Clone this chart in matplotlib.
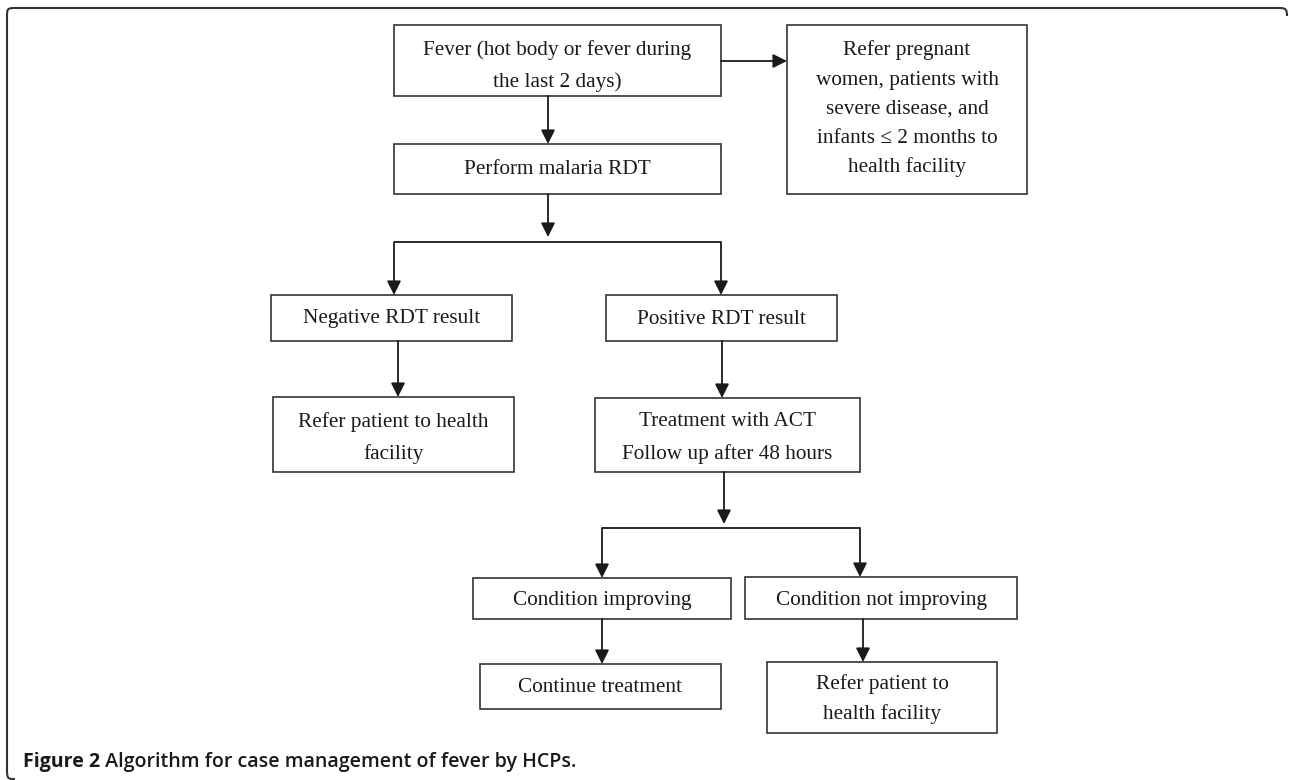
import matplotlib
matplotlib.use("Agg")
import matplotlib.pyplot as plt
from matplotlib.patches import Rectangle, PathPatch
from matplotlib.path import Path

# ---------------- data: node labels ----------------
fever_label = ["Fever (hot body or fever during", "the last 2 days)"]
refer_special_label = ["Refer pregnant", "women, patients with", "severe disease, and",
                       "infants \u2264 2 months to", "health facility"]
rdt_label = ["Perform malaria RDT"]
negative_label = ["Negative RDT result"]
positive_label = ["Positive RDT result"]
refer_neg_label = ["Refer patient to health", "facility"]
treatment_label = ["Treatment with ACT", "Follow up after 48 hours"]
improving_label = ["Condition improving"]
not_improving_label = ["Condition not improving"]
continue_label = ["Continue treatment"]
refer_fail_label = ["Refer patient to", "health facility"]
caption_bold = "Figure 2"
caption_text = "Algorithm for case management of fever by HCPs."

nodes = {
    "fever": fever_label,
    "refer_special": refer_special_label,
    "rdt": rdt_label,
    "negative": negative_label,
    "positive": positive_label,
    "refer_neg": refer_neg_label,
    "treatment": treatment_label,
    "improving": improving_label,
    "not_improving": not_improving_label,
    "continue": continue_label,
    "refer_fail": refer_fail_label,
}

# ---------------- layout (pixels, y downwards) ----------------
# x0, x1, y0, y1, centre of first text line, line step
layout = {
    "fever":         (394, 721, 25, 96, 49, 31),
    "refer_special": (787, 1027, 25, 194, 49, 29.2),
    "rdt":           (394, 721, 144, 194, 168, 0),
    "negative":      (271, 512, 295, 341, 317, 0),
    "positive":      (606, 837, 295, 341, 317, 0),
    "refer_neg":     (273, 514, 397, 472, 420, 32),
    "treatment":     (595, 860, 398, 472, 420, 32),
    "improving":     (473, 731, 578, 619, 598, 0),
    "not_improving": (745, 1017, 577, 619, 598, 0),
    "continue":      (480, 721, 664, 709, 685, 0),
    "refer_fail":    (767, 997, 662, 733, 682, 31),
}
# arrows with heads: (x0, y0, x1, y1)
arrows = [
    (721, 61, 787, 61),
    (548, 96, 548, 144),
    (548, 194, 548, 237),
    (394, 242, 394, 295),
    (721, 242, 721, 295),
    (398, 341, 398, 397),
    (722, 341, 722, 398),
    (724, 472, 724, 524),
    (602, 528, 602, 578),
    (860, 528, 860, 577),
    (602, 619, 602, 664),
    (863, 619, 863, 662),
]
# plain connector lines
lines = [
    (394, 242, 721, 242),
    (602, 528, 860, 528),
]

W, H = 1289, 780
fig = plt.figure(figsize=(W / 100, H / 100), dpi=100)
ax = fig.add_axes([0, 0, 1, 1])
ax.set_xlim(0, W)
ax.set_ylim(H, 0)
ax.axis("off")

serif = ["Liberation Serif", "DejaVu Serif"]
fs = 15.3
text_color = "#1a1a1a"
edge = "#333333"

# outer frame (open rounded frame)
r = 10
fx0, fy0, fx1, fy1 = 7, 8, 1287, 779
verts = [
    (fx1, fy0 + 8),
    (fx1, fy0), (fx1 - 2, fy0), (fx1 - r, fy0),
    (fx0 + r, fy0),
    (fx0, fy0), (fx0, fy0), (fx0, fy0 + r),
    (fx0, fy1 - r),
    (fx0, fy1), (fx0 + 1, fy1), (fx0 + 8, fy1),
]
codes = [Path.MOVETO, Path.CURVE4, Path.CURVE4, Path.CURVE4, Path.LINETO,
         Path.CURVE4, Path.CURVE4, Path.CURVE4, Path.LINETO,
         Path.CURVE4, Path.CURVE4, Path.CURVE4]
ax.add_patch(PathPatch(Path(verts, codes), fill=False, edgecolor="#333333", lw=1.5))

# boxes and text
for key, labels in nodes.items():
    x0, x1, y0, y1, cy, step = layout[key]
    ax.add_patch(Rectangle((x0, y0), x1 - x0, y1 - y0, fill=False,
                           edgecolor=edge, lw=1.2))
    xc = (x0 + x1) / 2
    for i, s in enumerate(labels):
        ax.text(xc, cy + i * step + 6.5, s, ha="center", va="baseline",
                fontsize=fs, family=serif, color=text_color)

for (x0, y0, x1, y1) in lines:
    ax.plot([x0, x1], [y0, y1], color="#1a1a1a", lw=1.3, solid_capstyle="butt")

for (x0, y0, x1, y1) in arrows:
    ax.annotate("", xy=(x1, y1), xytext=(x0, y0),
                arrowprops=dict(arrowstyle="-|>", color="#1a1a1a", lw=1.3,
                                mutation_scale=21, shrinkA=0, shrinkB=0))

# caption
cap_family = ["Open Sans", "DejaVu Sans"]
cap_fs = 13.0
t1 = ax.text(23, 767, caption_bold, fontsize=cap_fs, weight="bold",
             family=cap_family, color=text_color, va="baseline", ha="left")
t2 = ax.annotate(" " + caption_text, xy=(1, 0), xycoords=t1, va="bottom",
                 ha="left", fontsize=cap_fs, weight="semibold",
                 family=cap_family, color=text_color)
fig.canvas.draw()
rend = fig.canvas.get_renderer()
w = t2.get_window_extent(rend).x1 - t1.get_window_extent(rend).x0
scale = 550.0 / w
t1.set_fontsize(cap_fs * scale)
t2.set_fontsize(cap_fs * scale)

fig.savefig("out.png", dpi=100)
